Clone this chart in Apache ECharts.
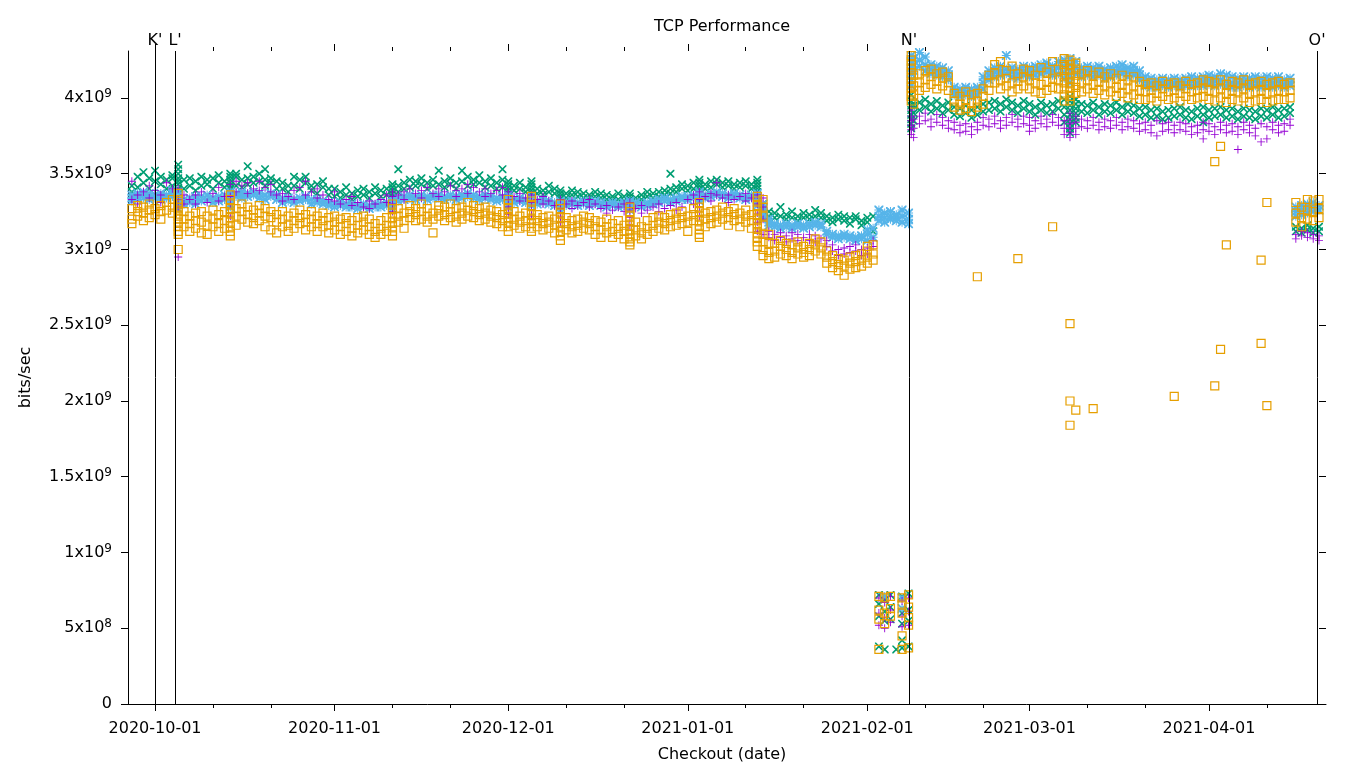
<!DOCTYPE html>
<html><head><meta charset="utf-8">
<script src="https://cdn.jsdelivr.net/npm/echarts@6/dist/echarts.min.js"></script>
<style>html,body{margin:0;padding:0;background:#fff}#chart{width:1360px;height:768px}</style>
</head><body><div id="chart"></div>
<script>
// ---- data ----
const checkoutDates = [
'2020-09-27','2020-09-28','2020-09-29','2020-09-30',
'2020-10-01','2020-10-02','2020-10-03','2020-10-04','2020-10-05','2020-10-06','2020-10-07','2020-10-08',
'2020-10-09','2020-10-10','2020-10-11','2020-10-12','2020-10-13','2020-10-14','2020-10-15','2020-10-16',
'2020-10-17','2020-10-18','2020-10-19','2020-10-20','2020-10-21','2020-10-22','2020-10-23','2020-10-24',
'2020-10-25','2020-10-26','2020-10-27','2020-10-28','2020-10-29','2020-10-30','2020-10-31',
'2020-11-01','2020-11-02','2020-11-03','2020-11-04','2020-11-05','2020-11-06','2020-11-07','2020-11-08',
'2020-11-09','2020-11-10','2020-11-11','2020-11-12','2020-11-13','2020-11-14','2020-11-15','2020-11-16',
'2020-11-17','2020-11-18','2020-11-19','2020-11-20','2020-11-21','2020-11-22','2020-11-23','2020-11-24',
'2020-11-25','2020-11-26','2020-11-27','2020-11-28','2020-11-29','2020-11-30',
'2020-12-01','2020-12-02','2020-12-03','2020-12-04','2020-12-05','2020-12-06','2020-12-07','2020-12-08',
'2020-12-09','2020-12-10','2020-12-11','2020-12-12','2020-12-13','2020-12-14','2020-12-15','2020-12-16',
'2020-12-17','2020-12-18','2020-12-19','2020-12-20','2020-12-21','2020-12-22','2020-12-23','2020-12-24',
'2020-12-25','2020-12-26','2020-12-27','2020-12-28','2020-12-29','2020-12-30','2020-12-31',
'2021-01-01','2021-01-02','2021-01-03','2021-01-04','2021-01-05','2021-01-06','2021-01-07','2021-01-08',
'2021-01-09','2021-01-10','2021-01-11','2021-01-12','2021-01-13','2021-01-14','2021-01-15','2021-01-16',
'2021-01-17','2021-01-18','2021-01-19','2021-01-20','2021-01-21','2021-01-22','2021-01-23','2021-01-24',
'2021-01-25','2021-01-26','2021-01-27','2021-01-28','2021-01-29','2021-01-30','2021-01-31',
'2021-02-01','2021-02-02','2021-02-03','2021-02-04','2021-02-05','2021-02-06','2021-02-07',
'2021-02-08 03:00','2021-02-08 14:00',
'2021-02-09','2021-02-10','2021-02-11','2021-02-12','2021-02-13','2021-02-14','2021-02-15','2021-02-16',
'2021-02-17','2021-02-18','2021-02-19','2021-02-20','2021-02-21','2021-02-22','2021-02-23','2021-02-24',
'2021-02-25','2021-02-26','2021-02-27','2021-02-28',
'2021-03-01','2021-03-02','2021-03-03','2021-03-04','2021-03-05','2021-03-06','2021-03-07','2021-03-08',
'2021-03-09','2021-03-10','2021-03-11','2021-03-12','2021-03-13','2021-03-14','2021-03-15','2021-03-16',
'2021-03-17','2021-03-18','2021-03-19','2021-03-20','2021-03-21','2021-03-22','2021-03-23','2021-03-24',
'2021-03-25','2021-03-26','2021-03-27','2021-03-28','2021-03-29','2021-03-30','2021-03-31',
'2021-04-01','2021-04-02','2021-04-03','2021-04-04','2021-04-05','2021-04-06','2021-04-07','2021-04-08',
'2021-04-09','2021-04-10','2021-04-11','2021-04-12','2021-04-13','2021-04-14','2021-04-15',
'2021-04-16','2021-04-17','2021-04-18','2021-04-19','2021-04-20'
];

// values in units of 10^9 bits/sec, one list per checkout date
const purplePlus = [
[3.45,3.33],[3.36,3.30],[3.38],[3.34,3.42],
[3.39],[3.36,3.31],[3.44],[3.40],[3.33,3.28,2.95,3.40],[3.30,3.36],[3.33],[3.36,3.30],
[3.38],[3.31],[3.37],[3.32,3.41],[3.35],[3.43,3.35,3.30,3.22],[3.38,3.45],[3.42],
[3.44,3.37],[3.40],[3.45,3.39],[3.41],[3.38,3.43],[3.36],[3.37,3.32],[3.35],
[3.39,3.33],[3.41],[3.45,3.36],[3.38],[3.34,3.40],[3.36],[3.33],
[3.32,3.38],[3.30],[3.33],[3.29,3.35],[3.31],[3.28],[3.32,3.27],[3.30],
[3.33],[3.31,3.36],[3.35,3.30,3.25,3.38],[3.36],[3.38,3.33],[3.40],[3.37],[3.39,3.34],
[3.41],[3.37],[3.40,3.35],[3.38],[3.42],[3.39,3.35],[3.40],[3.43,3.37],
[3.41],[3.38],[3.40,3.35],[3.37],[3.39],[3.36,3.41],
[3.38,3.33,3.28,3.23],[3.35],[3.32,3.37],[3.34],[3.36,3.31,3.26,3.22],[3.33],[3.30,3.35],[3.32],
[3.29],[3.33,3.27,3.22,3.18],[3.30],[3.27,3.32],[3.29],[3.31],[3.28,3.33],[3.30],
[3.27],[3.29,3.24],[3.26],[3.28],[3.25,3.30],[3.31,3.26,3.21,3.16],[3.27],[3.29,3.24],
[3.26],[3.28],[3.30,3.25],[3.27],[3.29],[3.31,3.26],[3.28],
[3.33],[3.30,3.36],[3.38,3.33,3.28,3.22],[3.35],[3.32,3.37],[3.44,3.36],[3.34],[3.36,3.31],
[3.33],[3.35],[3.32,3.37],[3.34],[3.36,3.30,3.24,3.18,3.12],[3.34,3.28,3.20,3.10],[3.12,3.08],[3.10,3.06],
[3.08,3.11],[3.09,3.05],[3.07,3.11],[3.10,3.06],[3.08],[3.06,3.10],[3.09,3.05],[3.07],
[3.02,3.06],[2.99,3.03],[3.00,2.96],[3.01,2.97],[2.98,3.02],[2.99,3.03],[3.00,2.96],
[3.01,2.97],[3.02,3.06],[0.70,0.60,0.52],[0.67,0.57,0.50],[0.71,0.62,0.54],[],[0.68,0.58,0.51],
[0.70,0.61,0.52],[3.92,3.88,3.85,3.82,3.79,3.76],
[3.86,3.80,3.74],[3.88,3.83],[3.90,3.85],[3.86,3.81],[3.89,3.84],[3.87,3.82],[3.85,3.80],[3.84,3.79],
[3.82,3.77],[3.83,3.78],[3.81,3.76],[3.84,3.79],[3.82,3.87],[3.86,3.81],[3.88,3.83],[3.85,3.80],
[3.87,3.82],[3.84,3.89],[3.86,3.81],[3.88,3.83],
[3.87,3.82,3.78],[3.85,3.80],[3.88,3.83],[3.86,3.81],[3.84,3.89],[3.87,3.82],[3.85,3.80,3.76],[3.90,3.86,3.83,3.80,3.77,3.74],
[3.88,3.84,3.80,3.76],[3.86,3.81],[3.85,3.80],[3.87,3.82],[3.84,3.79],[3.86,3.81],[3.85,3.80],[3.87,3.82],
[3.84,3.79],[3.86,3.81],[3.85,3.80],[3.83,3.78],[3.84,3.79],[3.82,3.77],[3.85,3.75],[3.83,3.78],
[3.84,3.79],[3.82,3.77],[3.84,3.79],[3.83,3.78],[3.81,3.76],[3.82,3.77],[3.84,3.79,3.73],
[3.83,3.78],[3.81,3.76],[3.84,3.79],[3.82,3.77],[3.83,3.78],[3.81,3.76,3.66],[3.84,3.79],[3.82,3.77],
[3.80,3.75],[3.83,3.71],[3.81,3.73],[3.84,3.79],[3.82,3.77],[3.83,3.78],[3.82,3.86],
[3.10,3.07],[3.09,3.12],[3.08,3.11],[3.10,3.07],[3.09,3.06]
];

const greenCross = [
[3.42,3.38],[3.48,3.41],[3.51,3.44],[3.47,3.40],
[3.52,3.45],[3.43,3.48],[3.46,3.40],[3.47,3.49,3.42],[3.56,3.53,3.50,3.47,3.45,3.43,3.40,3.38],[3.46,3.40],[3.42,3.47],[3.45,3.39],
[3.48,3.42],[3.43,3.46],[3.47,3.40],[3.49,3.44],[3.45,3.41],[3.50,3.48,3.46,3.44,3.42,3.40,3.38,3.36],[3.48,3.50,3.42],[3.46,3.41],
[3.55,3.47,3.43],[3.48,3.44],[3.50,3.45],[3.53,3.46,3.42],[3.47,3.44],[3.45,3.40],[3.44,3.40],[3.42,3.38],
[3.48,3.42],[3.46,3.40],[3.44,3.48],[3.42,3.39],[3.43,3.37],[3.41,3.45],[3.40,3.36],
[3.40,3.35],[3.38,3.34],[3.41,3.36],[3.37,3.33],[3.39,3.35],[3.36,3.40],[3.38,3.34],[3.37,3.41],
[3.39,3.35],[3.40,3.36],[3.43,3.41,3.39,3.37,3.35,3.33],[3.42,3.53,3.38],[3.44,3.40],[3.46,3.41],[3.45,3.42],[3.43,3.47],
[3.44,3.40],[3.46,3.42],[3.52,3.43],[3.45,3.41],[3.47,3.43],[3.44,3.40],[3.52,3.45],[3.48,3.42],
[3.46,3.43],[3.49,3.44],[3.45,3.41],[3.47,3.42],[3.44,3.40],[3.53,3.46,3.41],
[3.45,3.43,3.41,3.39,3.37,3.35],[3.42,3.39],[3.40,3.44],[3.41,3.38],[3.45,3.43,3.41,3.39,3.37,3.35],[3.40,3.37],[3.39,3.36],[3.38,3.42],
[3.37,3.40],[3.39,3.37,3.35,3.33,3.31],[3.37,3.34],[3.36,3.39],[3.35,3.38],[3.37,3.34],[3.36,3.33],[3.35,3.38],
[3.34,3.37],[3.36,3.33],[3.35,3.32],[3.33,3.37],[3.35,3.32],[3.37,3.35,3.33,3.31,3.29],[3.34,3.31],[3.36,3.33],
[3.35,3.38],[3.37,3.34],[3.38,3.35],[3.39,3.36],[3.50,3.40,3.37],[3.41,3.38],[3.40,3.43],
[3.42,3.39],[3.44,3.40],[3.46,3.44,3.42,3.40,3.38],[3.43,3.40],[3.45,3.41],[3.43,3.46],[3.44,3.41],[3.45,3.42],
[3.43,3.40],[3.44,3.41],[3.42,3.45],[3.43,3.40],[3.46,3.44,3.42,3.40,3.38,3.35],[3.30,3.27,3.24,3.20],[3.25,3.22],[3.24,3.21],
[3.28,3.22],[3.23,3.20],[3.25,3.21],[3.22,3.19],[3.24,3.21],[3.23,3.20],[3.26,3.22],[3.24,3.21],
[3.22,3.19],[3.21,3.18],[3.20,3.23],[3.19,3.22],[3.21,3.17],[3.20,3.22],[3.19,3.16],
[3.21,3.18],[3.12,3.22],[0.72,0.66,0.58,0.38],[0.69,0.61,0.55,0.36],[0.72,0.64,0.56],[0.36],[0.71,0.60,0.53,0.42,0.37],
[0.73,0.62,0.55,0.38],[4.02,3.98,3.95,3.92,3.89,3.86,3.83,3.80],
[3.95,3.90,3.85],[3.97,3.92],[3.99,3.94],[3.96,3.91],[3.98,3.93],[3.95,3.90],[3.97,3.92],[3.94,3.89],
[3.93,3.88],[3.95,3.90],[3.92,3.87],[3.94,3.89],[3.96,3.91],[3.97,3.92],[3.98,3.93],[3.96,3.91],
[3.99,3.94],[3.97,3.92],[3.95,3.90],[3.98,3.93],
[3.96,3.91],[3.94,3.89],[3.97,3.92],[3.95,3.90],[3.96,3.91],[3.98,3.93],[3.99,3.94,3.89,3.84],[4.01,3.98,3.95,3.92,3.89,3.86,3.83,3.80,3.77],
[3.99,3.96,3.93,3.90,3.87,3.84],[3.96,3.91],[3.95,3.90],[3.97,3.92],[3.94,3.89],[3.96,3.91],[3.95,3.90],[3.97,3.92],
[3.94,3.89],[3.96,3.91],[3.95,3.90],[3.93,3.88],[3.94,3.89],[3.92,3.87],[3.93,3.88],[3.91,3.86],
[3.92,3.87],[3.93,3.88],[3.94,3.89],[3.92,3.87],[3.91,3.86],[3.93,3.88],[3.94,3.89,3.84],
[3.92,3.87],[3.93,3.88],[3.94,3.89],[3.92,3.87],[3.93,3.88],[3.91,3.86],[3.93,3.88],[3.92,3.87],
[3.91,3.86],[3.93,3.88],[3.92,3.87],[3.94,3.89],[3.92,3.87],[3.93,3.88],[3.94,3.90],
[3.15,3.12],[3.14,3.11],[3.16,3.13],[3.14,3.11],[3.15,3.12]
];

const blueStar = [
[3.36,3.34,3.32],[3.35,3.37,3.33],[3.36,3.38,3.34],[3.35,3.33,3.37],
[3.36,3.34],[3.35,3.37,3.33],[3.36,3.34],[3.37,3.35,3.39],[3.38,3.35,3.30,3.27,3.32],[3.33,3.30],[3.34,3.31],[3.33,3.35,3.30],
[3.35,3.32],[3.36,3.33],[3.34,3.31],[3.35,3.32],[3.36,3.33],[3.38,3.36,3.33,3.30,3.28],[3.37,3.35],[3.36,3.34,3.38],
[3.37,3.35],[3.36,3.38],[3.37,3.34],[3.36,3.33],[3.35,3.37],[3.33,3.36],[3.34,3.31],[3.32,3.34],
[3.33,3.31],[3.34,3.32],[3.35,3.33],[3.33,3.30],[3.31,3.33],[3.32,3.30],[3.31,3.29],
[3.30,3.28],[3.29,3.31],[3.30,3.28],[3.28,3.30],[3.29,3.27],[3.30,3.28],[3.29,3.27],[3.28,3.30],
[3.30,3.28],[3.31,3.29],[3.33,3.31,3.29,3.27],[3.34,3.32],[3.35,3.33],[3.36,3.34],[3.35,3.33],[3.34,3.36],
[3.35,3.33],[3.34,3.36],[3.36,3.34],[3.35,3.33],[3.36,3.34],[3.35,3.33],[3.36,3.34],[3.35,3.37],
[3.36,3.34],[3.35,3.33],[3.34,3.36],[3.35,3.33],[3.34,3.32],[3.35,3.33],
[3.36,3.34,3.32,3.30,3.28],[3.33,3.31],[3.32,3.34],[3.33,3.31],[3.35,3.33,3.31,3.29],[3.32,3.30],[3.31,3.33],[3.32,3.30],
[3.31,3.29],[3.32,3.30,3.28,3.26],[3.31,3.29],[3.30,3.32],[3.31,3.29],[3.32,3.30],[3.31,3.29],[3.30,3.32],
[3.29,3.31],[3.30,3.28],[3.29,3.31],[3.30,3.28],[3.29,3.31],[3.32,3.30,3.28,3.26],[3.29,3.31],[3.30,3.28],
[3.31,3.29],[3.32,3.30],[3.33,3.31],[3.32,3.34],[3.33,3.31],[3.34,3.32],[3.35,3.33],
[3.35,3.33],[3.36,3.34],[3.38,3.36,3.34,3.32],[3.36,3.34],[3.37,3.35],[3.36,3.38],[3.37,3.35],[3.36,3.34],
[3.35,3.37],[3.36,3.34],[3.35,3.33],[3.34,3.36],[3.37,3.35,3.33,3.31,3.29],[3.30,3.27,3.24,3.21],[3.20,3.18,3.16],[3.17,3.15],
[3.16,3.14],[3.15,3.17],[3.16,3.14],[3.15,3.17],[3.16,3.14],[3.17,3.15],[3.16,3.18],[3.17,3.15],
[3.12,3.10],[3.10,3.08],[3.09,3.07],[3.08,3.10],[3.07,3.09],[3.08,3.06],[3.07,3.09],
[3.10,3.06,3.13],[3.14,3.08],[3.26,3.22,3.19],[3.24,3.21,3.18,0.71],[3.22,3.20,3.25],[3.21,3.19,3.23],[3.22,3.18,3.26,0.70,0.63],
[3.24,3.20,3.17],[4.28,4.24,4.20,4.16,4.12,4.08],
[4.22,4.18,4.26],[4.30,4.25,4.21],[4.27,4.22,4.18],[4.22,4.19,4.16],[4.21,4.18,4.15],[4.20,4.17,4.14],[4.18,4.15,4.12],[4.07,4.04,4.02],
[4.06,4.03,4.01],[4.07,4.04,4.02],[4.06,4.03,4.01],[4.07,4.05,4.02],[4.10,4.06,4.14],[4.18,4.15,4.12],[4.20,4.17,4.14],[4.21,4.18,4.15],
[4.28,4.19,4.16],[4.20,4.17,4.14],[4.19,4.16,4.13],[4.21,4.18,4.15],
[4.20,4.17,4.14],[4.21,4.18,4.15],[4.22,4.19,4.16],[4.23,4.20,4.17],[4.21,4.18,4.15],[4.24,4.20,4.16],[4.25,4.21,4.17,4.13],[4.26,4.22,4.18,4.14,4.10],
[4.24,4.20,4.16],[4.20,4.17,4.14],[4.21,4.18,4.15],[4.20,4.17,4.14],[4.21,4.18,4.15],[4.19,4.16,4.13],[4.20,4.17,4.14],[4.21,4.18,4.15],
[4.22,4.19,4.16],[4.20,4.17,4.14],[4.21,4.18,4.15],[4.18,4.15,4.12],[4.14,4.11,4.08],[4.13,4.10,4.07],[4.12,4.09,4.07],[4.13,4.10,4.08],
[4.12,4.09,4.07],[4.13,4.10,4.08],[4.12,4.09,4.07],[4.13,4.10,4.08],[4.14,4.11,4.08],[4.13,4.10,4.08],[4.14,4.11,4.08],
[4.15,4.12,4.09],[4.14,4.11,4.08],[4.16,4.12,4.09],[4.15,4.11,4.08],[4.14,4.10,4.07],[4.13,4.10,4.07],[4.14,4.11,4.08],[4.13,4.10,4.07],
[4.14,4.11,4.08],[4.13,4.10,4.07],[4.14,4.11,4.08],[4.13,4.10,4.07],[4.14,4.11,4.08],[4.12,4.09,4.07],[4.13,4.10,4.08],
[3.28,3.25,3.22],[3.29,3.26,3.23],[3.30,3.27,3.24],[3.31,3.28,3.25],[3.29,3.26]
];

const orangeSquare = [
[3.27,3.20,3.17],[3.25,3.22,3.29],[3.28,3.24,3.19],[3.26,3.30,3.21],
[3.27,3.23],[3.29,3.25,3.20],[3.26,3.31],[3.28,3.24,3.33],[3.37,3.33,3.30,3.26,3.22,3.18,3.15,3.12,3.10,3.00,3.28,3.20],[3.20,3.15,3.25],[3.17,3.22,3.12],[3.19,3.14,3.24],
[3.18,3.25,3.11],[3.22,3.16,3.10],[3.20,3.15,3.26],[3.17,3.23,3.12],[3.19,3.25,3.14],[3.36,3.33,3.30,3.27,3.24,3.21,3.18,3.15,3.12,3.09],[3.22,3.27,3.16],[3.25,3.20,3.30],
[3.23,3.18,3.28],[3.26,3.21,3.17],[3.24,3.19,3.29],[3.22,3.27,3.15],[3.21,3.25,3.13],[3.18,3.23,3.11],[3.20,3.15,3.25],[3.16,3.22,3.12],
[3.19,3.24,3.14],[3.21,3.17,3.26],[3.23,3.18,3.13],[3.20,3.25,3.15],[3.17,3.22,3.12],[3.19,3.15,3.24],[3.16,3.21,3.11],
[3.18,3.13,3.22],[3.15,3.20,3.10],[3.17,3.12,3.21],[3.14,3.19,3.09],[3.16,3.11,3.21],[3.13,3.18,3.22],[3.15,3.10,3.20],[3.17,3.12,3.08],
[3.14,3.19,3.10],[3.16,3.21,3.12],[3.30,3.27,3.24,3.21,3.18,3.15,3.12,3.09],[3.22,3.18,3.27],[3.24,3.19,3.14],[3.25,3.21,3.29],[3.23,3.19,3.27],[3.25,3.20,3.30],
[3.22,3.27,3.18],[3.24,3.20,3.11],[3.26,3.22,3.29],[3.23,3.19,3.28],[3.25,3.21,3.30],[3.22,3.27,3.18],[3.24,3.20,3.28],[3.26,3.22,3.31],
[3.25,3.21,3.29],[3.23,3.19,3.27],[3.24,3.20,3.28],[3.22,3.18,3.26],[3.21,3.25,3.17],[3.23,3.19,3.15],
[3.33,3.30,3.27,3.24,3.21,3.18,3.15,3.12],[3.20,3.16,3.25],[3.18,3.22,3.14],[3.19,3.15,3.24],[3.35,3.32,3.29,3.26,3.23,3.20,3.17,3.14,3.12],[3.19,3.15,3.23],[3.17,3.21,3.13],[3.18,3.14,3.22],
[3.16,3.20,3.11],[3.30,3.27,3.24,3.21,3.18,3.15,3.12,3.09,3.06],[3.17,3.13,3.21],[3.15,3.19,3.11],[3.16,3.12,3.20],[3.18,3.14,3.22],[3.17,3.13,3.21],[3.15,3.19,3.10],
[3.13,3.18,3.08],[3.15,3.11,3.20],[3.12,3.17,3.08],[3.14,3.10,3.19],[3.12,3.16,3.07],[3.28,3.25,3.22,3.19,3.16,3.13,3.10,3.07,3.05,3.03],[3.13,3.09,3.18],[3.15,3.11,3.07],
[3.14,3.19,3.10],[3.16,3.12,3.21],[3.18,3.14,3.22],[3.17,3.13,3.21],[3.19,3.15,3.23],[3.20,3.16,3.24],[3.21,3.17,3.25],
[3.22,3.18,3.12],[3.23,3.19,3.27],[3.31,3.28,3.25,3.22,3.19,3.16,3.13,3.10,3.08],[3.24,3.20,3.15],[3.25,3.21,3.17],[3.26,3.22,3.18],[3.24,3.20,3.28],[3.25,3.21,3.16],
[3.23,3.19,3.27],[3.24,3.20,3.15],[3.22,3.18,3.26],[3.23,3.19,3.14],[3.35,3.32,3.29,3.26,3.23,3.20,3.17,3.14,3.11,3.08,3.05,3.02],[3.33,3.28,3.22,3.16,3.10,3.05,3.00,2.96],[3.10,3.04,2.98,2.94],[3.04,2.99,2.95],
[3.02,2.97,3.06],[3.00,2.96,3.04],[3.03,2.98,2.94],[3.01,2.97,3.05],[3.02,2.98,2.95],[3.00,3.04,2.96],[3.03,2.99,3.07],[3.01,2.97,3.05],
[2.95,2.91,2.99],[2.92,2.88,2.96],[2.90,2.86,2.94],[2.89,2.93,2.83],[2.91,2.87,2.95],[2.88,2.92,2.96],[2.89,2.93,2.97],
[2.91,2.95,2.99,3.02],[2.93,2.97,3.03],[0.71,0.62,0.56,0.36],[0.70,0.60,0.53],[0.71,0.63,0.58],[],[0.70,0.66,0.60,0.45,0.36],
[0.72,0.64,0.57,0.52,0.37],[4.28,4.25,4.22,4.19,4.16,4.13,4.10,4.07,4.04,4.01,3.98],
[4.15,4.08,4.02,3.96],[4.16,4.10,4.05],[4.18,4.12,4.07],[4.14,4.09,4.19],[4.16,4.11,4.06],[4.13,4.08,4.17],[4.10,4.05,4.14],[4.03,3.98,3.94],
[4.01,3.96,3.92],[4.04,3.99,3.93],[4.02,3.97,3.91],[4.03,3.98,3.94,2.82],[4.06,4.01,3.96],[4.15,4.10,4.05],[4.22,4.16,4.10],[4.24,4.12,4.06],
[4.18,4.13,4.08],[4.21,4.10,4.04],[4.16,4.11,4.06,2.94],[4.19,4.14,4.08],
[4.18,4.12,4.06],[4.15,4.10,4.04],[4.20,4.09,4.03],[4.17,4.11,4.05],[4.24,4.13,4.07,3.15],[4.19,4.12,4.06],[4.26,4.22,4.18,4.14,4.10,4.06,4.02,3.98],[4.25,4.22,4.19,4.16,4.13,4.10,4.07,4.04,4.01,3.98,2.51,2.00,1.84],
[4.23,4.19,4.15,4.11,4.07,4.03,1.94],[4.16,4.10,4.04],[4.18,4.12,4.06],[4.15,4.09,4.03,1.95],[4.17,4.11,4.05],[4.14,4.08,4.02],[4.16,4.10,4.04],[4.13,4.07,4.01],
[4.15,4.09,4.03],[4.12,4.06,4.00],[4.14,4.08,4.02],[4.11,4.05,3.99],[4.09,4.04,3.99],[4.10,4.05,4.00],[4.08,4.03,3.98],[4.11,4.06,4.01],
[4.09,4.04,3.99],[4.10,4.05,4.00,2.03],[4.08,4.03,3.98],[4.11,4.06,4.01],[4.09,4.04,3.99],[4.10,4.05,4.00],[4.12,4.06,4.01],
[4.11,4.05,3.99],[4.10,4.04,3.98,3.58,2.10],[4.12,4.06,4.00,3.68,2.34],[4.09,4.03,3.97,3.03],[4.11,4.05,3.99],[4.10,4.04,3.98],[4.12,4.06,4.00],[4.09,4.03,3.97],
[4.10,4.04,3.98],[4.11,4.05,3.99,2.93,2.38],[4.09,4.03,3.97,3.31,1.97],[4.10,4.04,3.98],[4.11,4.05,3.99],[4.09,4.04,3.99],[4.10,4.05,4.00],
[3.31,3.24,3.18],[3.28,3.21,3.15],[3.33,3.26,3.20],[3.32,3.25,3.19],[3.33,3.27,3.21]
];

const eventNames = ["K'", "L'", "N'", "O'"];
const eventDates = ['2020-10-01 00:00', '2020-10-04 11:00', '2021-02-08 05:00', '2021-04-19 16:00'];
const majorTickDates = ['2020-10-01','2020-11-01','2020-12-01','2021-01-01','2021-02-01','2021-03-01','2021-04-01'];
const minorTickDates = ['2020-10-11','2020-10-21','2020-11-11','2020-11-21','2020-12-11','2020-12-21','2021-01-11','2021-01-21','2021-02-11','2021-02-21','2021-03-11','2021-03-21','2021-04-11'];
const yTickValues = [0, 5e8, 1e9, 1.5e9, 2e9, 2.5e9, 3e9, 3.5e9, 4e9];
const xRange = ['2020-09-26 08:00', '2021-04-21 05:00'];
const yRange = [0, 4.31e9];

// ---- build ----
function ts(s) {
  const m = s.match(/(\d+)-(\d+)-(\d+)(?:[ T](\d+):(\d+))?/);
  return new Date(+m[1], +m[2] - 1, +m[3], +(m[4] || 0), +(m[5] || 0)).getTime();
}
function build(vals) {
  if (vals.length !== checkoutDates.length) console.warn('length mismatch', vals.length, checkoutDates.length);
  const out = [];
  vals.forEach((arr, i) => { (arr || []).forEach(v => out.push([ts(checkoutDates[i]), v * 1e9])); });
  return out;
}
const FONT = 'DejaVu Sans';
const pad = n => (n < 10 ? '0' : '') + n;
const fmtDate = v => { const d = new Date(v); return d.getFullYear() + '-' + pad(d.getMonth() + 1) + '-' + pad(d.getDate()); };

const SYM_PLUS = 'path://M4,0H5V9H4Z M0,4H9V5H0Z';
const SYM_CROSS = 'path://M0,0H1.3L9,7.7V9H7.7L0,1.3Z M7.7,0H9V1.3L1.3,9H0V7.7Z';
const SYM_STAR = 'path://M4,0H5V9H4Z M0,4H9V5H0Z M0,0H1.3L9,7.7V9H7.7L0,1.3Z M7.7,0H9V1.3L1.3,9H0V7.7Z';

const xMin = ts(xRange[0]), xMax = ts(xRange[1]);
function xAx(pos, ticks, len, main) {
  const vals = ticks.map(ts);
  return {
    type: 'value', position: pos, min: xMin, max: xMax, scale: true,
    axisLine: { show: !!main, onZero: false, lineStyle: { color: '#000', width: 1 } },
    axisTick: { show: true, inside: false, length: len, lineStyle: { color: '#000', width: 1 }, customValues: vals },
    axisLabel: main ? { show: true, customValues: vals, formatter: fmtDate, color: '#000', fontSize: 16, fontFamily: FONT, margin: 17 }
                    : { show: false, customValues: vals },
    splitLine: { show: false }, minorTick: { show: false }, axisPointer: { show: false }
  };
}
const xAxes = [
  Object.assign(xAx('bottom', majorTickDates, 7, true), {
    name: 'Checkout (date)', nameLocation: 'middle', nameGap: 43,
    nameTextStyle: { color: '#000', fontSize: 16, fontFamily: FONT, padding: [0, 10, 0, 0] }
  }),
  xAx('bottom', minorTickDates, 4, false),
  xAx('top', majorTickDates, 7, false),
  xAx('top', minorTickDates, 4, false)
];

const yLabelFmt = v => {
  if (v === 0) return '{b|0}';
  const e = Math.floor(Math.log10(v) + 1e-9);
  const m = +(v / Math.pow(10, e)).toFixed(2);
  return '{b|' + m + 'x10}{s|' + e + '}';
};

const common = { type: 'scatter', xAxisIndex: 0, yAxisIndex: 0, large: false, animation: false, emphasis: { disabled: true }, silent: true };

const option = {
  animation: false,
  backgroundColor: '#fff',
  title: { text: 'TCP Performance', left: 722, textAlign: 'center', top: 19, padding: 0,
    textStyle: { color: '#000', fontSize: 16, fontWeight: 'normal', fontFamily: FONT } },
  grid: { left: 128, right: 34, top: 51, bottom: 62, containLabel: false },
  xAxis: xAxes,
  yAxis: [
    { type: 'value', position: 'left', min: yRange[0], max: yRange[1],
      axisLine: { show: true, lineStyle: { color: '#000', width: 1 } },
      axisTick: { show: true, inside: false, length: 7, lineStyle: { color: '#000' }, customValues: yTickValues },
      axisLabel: { formatter: yLabelFmt, customValues: yTickValues, margin: 16, color: '#000', fontFamily: FONT,
        rich: { b: { fontSize: 16, fontFamily: FONT, color: '#000', lineHeight: 20 },
                s: { fontSize: 12, fontFamily: FONT, color: '#000', verticalAlign: 'top', lineHeight: 13 } } },
      splitLine: { show: false },
      name: 'bits/sec', nameLocation: 'middle', nameRotate: 90, nameGap: 94,
      nameTextStyle: { color: '#000', fontSize: 16, fontFamily: FONT } },
    { type: 'value', position: 'right', min: yRange[0], max: yRange[1],
      axisLine: { show: false }, axisTick: { show: true, inside: true, length: 7, lineStyle: { color: '#000' }, customValues: yTickValues },
      axisLabel: { show: false, customValues: yTickValues }, splitLine: { show: false } }
  ],
  series: [
    Object.assign({}, common, { name: 'green', symbol: SYM_CROSS, symbolSize: 8, itemStyle: { color: '#009e73', opacity: 1 }, data: build(greenCross),
      markLine: { silent: true, symbol: ['none', 'none'], animation: false, emphasis: { disabled: true },
        lineStyle: { color: '#000', width: 1, type: 'solid' },
        label: { show: true, position: 'end', formatter: p => p.name, color: '#000', fontSize: 16, fontFamily: FONT, distance: 2 },
        data: eventNames.map((n, i) => ({ name: n, xAxis: ts(eventDates[i]) })) } }),
    Object.assign({}, common, { name: 'blue', symbol: SYM_STAR, symbolSize: 9, itemStyle: { color: '#56b4e9', opacity: 1 }, data: build(blueStar) }),
    Object.assign({}, common, { name: 'purple', symbol: SYM_PLUS, symbolSize: 8, itemStyle: { color: '#9400d3', opacity: 1 }, data: build(purplePlus) }),
    Object.assign({}, common, { name: 'orange', symbol: 'rect', symbolSize: 8,
      itemStyle: { color: 'rgba(0,0,0,0)', borderColor: '#e69f00', borderWidth: 1.2, opacity: 1 }, data: build(orangeSquare) })
  ]
};
const chart = echarts.init(document.getElementById('chart'), null, { renderer: 'canvas', width: 1360, height: 768 });
chart.setOption(option);
</script>
</body></html>
